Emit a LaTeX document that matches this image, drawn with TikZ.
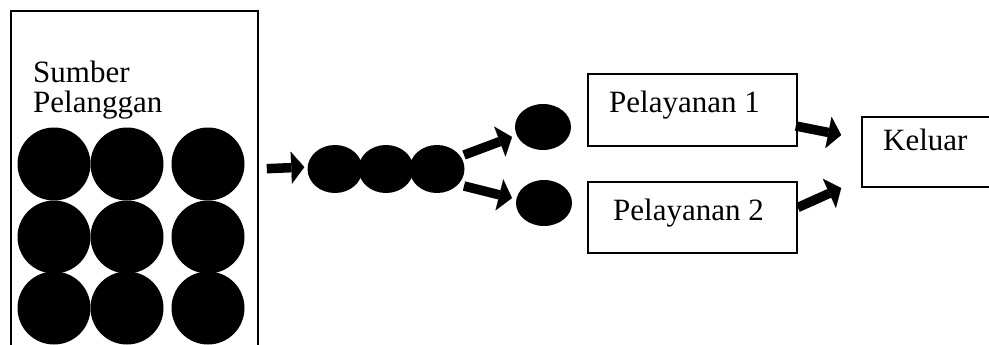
\documentclass[tikz,border=0pt]{standalone}
\usepackage{fontspec}
\setmainfont{Liberation Serif}
\usetikzlibrary{shapes.geometric,arrows.meta,calc}

\tikzset{
  frame/.style={draw=black, line width=1.6pt, fill=none, inner sep=0pt},
  dot/.style={circle, fill=black, draw=none, minimum size=73pt, inner sep=0pt},
  qdot/.style={ellipse, fill=black, draw=none, minimum width=55pt, minimum height=48pt, inner sep=0pt},
  sdot/.style={ellipse, fill=black, draw=none, minimum width=56pt, minimum height=46pt, inner sep=0pt},
  label/.style={inner sep=0pt, font=\fontsize{31}{31}\selectfont},
  blk/.style={line width=9.5pt, -{Triangle[length=13pt, width=32pt, line width=0.1pt]}},
}

\begin{document}
\begin{tikzpicture}[x=1pt, y=-1pt]
  \useasboundingbox (0,0) rectangle (989,345);
  \clip (0,0) rectangle (989,345);

  % customer source container (continues below the lower edge)
  \node[frame, minimum width=247pt, minimum height=380pt] (src) at (134.5,201) {};
  \node[label, anchor=base west] (srct1) at (33,83) {Sumber};
  \node[label, anchor=base west] (srct2) at (33,113) {Pelanggan};

  % 3 x 3 waiting customers
  \foreach \c/\x in {1/54,2/127,3/208}{
    \foreach \r/\y in {1/164,2/237,3/308}{
      \node[dot] (c\r\c) at (\x,\y) {};
    }
  }

  % queue
  \node[qdot] (q1) at (335,169) {};
  \node[qdot] (q2) at (386,169) {};
  \node[qdot] (q3) at (437,169) {};

  % customers being served
  \node[sdot] (s1) at (543,127) {};
  \node[sdot] (s2) at (544,203) {};

  % service points
  \node[frame, minimum width=209pt, minimum height=72pt] (p1) at (692.5,110) {};
  \node[label, anchor=base west] (p1t) at (609,113) {Pelayanan 1};
  \node[frame, minimum width=209pt, minimum height=71pt] (p2) at (692.5,217.5) {};
  \node[label, anchor=base west] (p2t) at (613,220) {Pelayanan 2};

  % exit (continues past the right edge)
  \node[frame, minimum width=160pt, minimum height=70pt] (out) at (942,152) {};
  \node[label, anchor=base west] (outt) at (883,150) {Keluar};

  % flow
  \draw[blk, shorten <=8pt, shorten >=3pt] (src.east |- q1.west) -- ([yshift=2pt]q1.west);
  \draw[blk] ($(q3.center)+(27,-14)$) -- ($(s1.center)+(-31,10)$);
  \draw[blk] ($(q3.center)+(27,17)$) -- ($(s2.center)+(-32,-5)$);
  \draw[blk] ($(p1.east)+(-2,16)$) -- ($(out.west)+(-20,-17)$);
  \draw[blk] ($(p2.east)+(0,-10)$) -- ($(out.west)+(-20,36)$);
\end{tikzpicture}
\end{document}
